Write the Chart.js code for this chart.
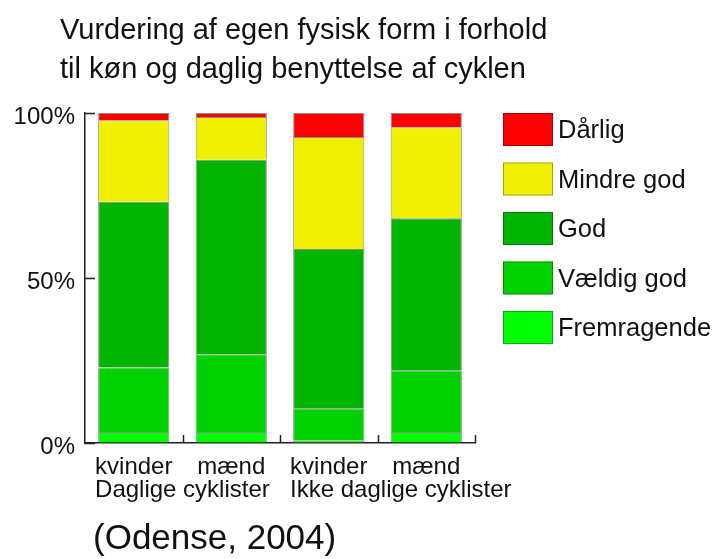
<!DOCTYPE html>
<html>
<head>
<meta charset="utf-8">
<script src="https://cdn.jsdelivr.net/npm/chart.js@4/dist/chart.umd.min.js"></script>
<style>
  body { margin: 0; background: #fff; }
  #wrap { width: 723px; height: 559px; }
</style>
</head>
<body>
<div id="wrap"><canvas id="chart" width="723" height="559"></canvas></div>
<script>
// data (percent of each group)
const categories = ['kvinder', 'mænd', 'kvinder', 'mænd'];
const groups = ['Daglige cyklister', 'Ikke daglige cyklister'];
const fremragende = [3.3, 3.3, 0.8, 3.3];
const vaeldigGod = [19.6, 23.6, 9.6, 18.6];
const god = [50.2, 58.9, 48.4, 46.2];
const mindreGod = [24.7, 13.0, 33.9, 27.6];
const daarlig = [2.2, 1.2, 7.3, 4.3];
const yTicks = [0, 50, 100];

const titleLines = ['Vurdering af egen fysisk form i forhold', 'til køn og daglig benyttelse af cyklen'];
const note = '(Odense, 2004)';
const FONT = '"Liberation Sans", Arial, sans-serif';

const series = [
  { label: 'Fremragende', data: fremragende, color: '#00ff00' },
  { label: 'Vældig god', data: vaeldigGod, color: '#00d200' },
  { label: 'God', data: god, color: '#00b400' },
  { label: 'Mindre god', data: mindreGod, color: '#f0f000' },
  { label: 'Dårlig', data: daarlig, color: '#ff0000' }
];

// inward tick marks on both axes
const innerTicks = {
  id: 'innerTicks',
  afterDraw(chart) {
    const ctx = chart.ctx;
    const x = chart.scales.x;
    const y = chart.scales.y;
    const area = chart.chartArea;
    ctx.save();
    ctx.strokeStyle = '#222';
    ctx.lineWidth = 1.5;
    ctx.beginPath();
    yTicks.forEach(v => {
      const py = Math.round(y.getPixelForValue(v)) + 0.5;
      ctx.moveTo(area.left, py);
      ctx.lineTo(area.left + 10, py);
    });
    const step = x.getPixelForValue(1) - x.getPixelForValue(0);
    for (let i = 0; i < categories.length; i++) {
      const px = Math.round(x.getPixelForValue(i) + step / 2) + 0.5;
      ctx.moveTo(px, area.bottom);
      ctx.lineTo(px, area.bottom - 8);
    }
    ctx.stroke();
    ctx.restore();
  }
};

// title, legend, group labels and source note
const extras = {
  id: 'extras',
  afterDraw(chart) {
    const ctx = chart.ctx;
    const x = chart.scales.x;
    ctx.save();
    ctx.fillStyle = '#111';
    ctx.textAlign = 'left';
    ctx.textBaseline = 'alphabetic';
    ctx.font = '29px ' + FONT;
    ctx.fillText(titleLines[0], 60, 39);
    ctx.fillText(titleLines[1], 60, 78);

    // group labels start where the first tick label of the pair starts
    ctx.font = '24px ' + FONT;
    groups.forEach((g, i) => {
      const c = i * 2;
      const w = ctx.measureText(categories[c]).width;
      const left = x.getPixelForValue(c) - w / 2;
      ctx.fillText(g, left, 497);
    });

    // legend, top item first
    ctx.font = '25.5px ' + FONT;
    ctx.textBaseline = 'middle';
    const items = series.slice().reverse();
    items.forEach((s, i) => {
      const top = 113 + i * 49.5;
      ctx.fillStyle = s.color;
      ctx.fillRect(503, top, 50, 33);
      ctx.strokeStyle = 'rgba(0,0,0,0.3)';
      ctx.lineWidth = 1;
      ctx.strokeRect(503.5, top + 0.5, 49, 32);
      ctx.fillStyle = '#111';
      ctx.fillText(s.label, 558, top + 18);
    });

    ctx.textBaseline = 'alphabetic';
    ctx.font = '35px ' + FONT;
    ctx.fillText(note, 93, 549);
    ctx.restore();
  }
};

new Chart(document.getElementById('chart'), {
  type: 'bar',
  data: {
    labels: categories,
    datasets: series.map(s => ({
      label: s.label,
      data: s.data,
      backgroundColor: s.color,
      borderColor: 'rgba(0,0,0,0.45)',
      borderWidth: 1,
      barPercentage: 0.73,
      categoryPercentage: 1
    }))
  },
  options: {
    responsive: false,
    devicePixelRatio: 1,
    animation: false,
    layout: { padding: { top: 113, left: 0, right: 248, bottom: 0 } },
    plugins: { legend: { display: false }, title: { display: false }, tooltip: { enabled: false } },
    scales: {
      x: {
        stacked: true,
        afterFit(s) { s.height = 116; },
        grid: { drawOnChartArea: false, drawTicks: false },
        border: { color: '#222', width: 1.5 },
        ticks: { color: '#111', font: { family: FONT, size: 24 }, padding: 10, maxRotation: 0 }
      },
      y: {
        stacked: true,
        min: 0,
        max: 100,
        afterFit(s) { s.width = 85; },
        afterBuildTicks(s) { s.ticks = yTicks.map(v => ({ value: v })); },
        grid: { drawOnChartArea: false, drawTicks: false },
        border: { color: '#222', width: 1.5 },
        ticks: {
          color: '#111',
          font: { family: FONT, size: 24 },
          padding: 10,
          labelOffset: 4,
          callback: v => v + '%'
        }
      }
    }
  },
  plugins: [innerTicks, extras]
});
</script>
</body>
</html>
